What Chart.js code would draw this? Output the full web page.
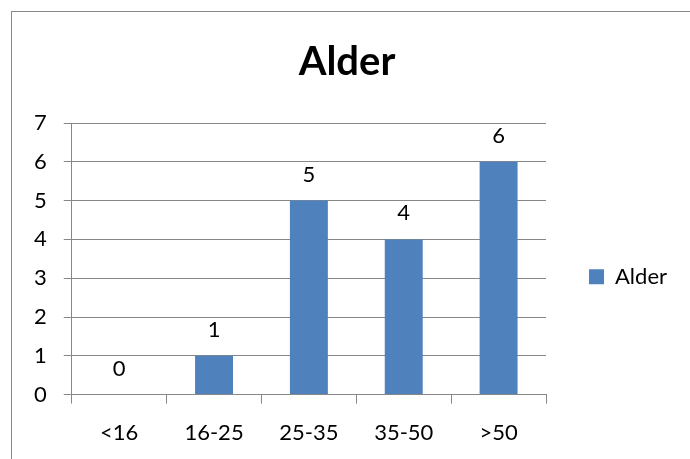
<!DOCTYPE html>
<html lang="no">
<head>
  <meta charset="UTF-8">
  <title>Alder</title>
  <script src="https://cdn.jsdelivr.net/npm/chart.js@4.4.0/dist/chart.umd.min.js"></script>
  <style>
    html, body { margin: 0; padding: 0; background: #fff; overflow: hidden; }
    #frame { position: absolute; left: 11px; top: 11px; width: 900px; height: 700px; border: 1px solid #8a8a8a; }
    #chart { position: absolute; left: 0; top: 0; }
  </style>
</head>
<body>
  <div id="frame"></div>
  <canvas id="chart" width="690" height="459"></canvas>

  <script>
    const categories = ["<16", "16-25", "25-35", "35-50", ">50"];
    const alderValues = [0, 1, 5, 4, 6];
    const yTicks = [0, 1, 2, 3, 4, 5, 6, 7];

    const gridGray = '#878787';
    const barBlue = '#4f81bd';

    // verdier over søylene
    const valueLabels = {
      id: 'valueLabels',
      afterDatasetsDraw(chart) {
        const ctx = chart.ctx;
        const meta = chart.getDatasetMeta(0);
        ctx.save();
        ctx.font = '22px Lato';
        ctx.fillStyle = '#000';
        ctx.textAlign = 'center';
        ctx.textBaseline = 'middle';
        meta.data.forEach((bar, i) => {
          ctx.fillText(String(alderValues[i]), bar.x, bar.y - 26);
        });
        ctx.restore();
      }
    };

    new Chart(document.getElementById('chart'), {
      type: 'bar',
      data: {
        labels: categories,
        datasets: [{
          label: 'Alder',
          data: alderValues,
          backgroundColor: barBlue,
          borderWidth: 0,
          barPercentage: 0.4,
          categoryPercentage: 1
        }]
      },
      options: {
        responsive: false,
        animation: false,
        devicePixelRatio: 1,
        layout: { padding: { left: 17, right: 13, top: 0, bottom: -3 } },
        plugins: {
          title: {
            display: true,
            text: 'Alder',
            color: '#000',
            font: { family: 'Lato', size: 40, weight: 'bold' },
            padding: { top: 38, bottom: 37 }
          },
          legend: {
            position: 'right',
            fullSize: false,
            // tom tittel skyver oppføringen litt ned
            title: { display: true, text: ' ', font: { family: 'Lato', size: 20 }, padding: { top: 12, bottom: 0 } },
            labels: {
              color: '#000',
              font: { family: 'Lato', size: 22 },
              boxWidth: 15,
              boxHeight: 15,
              padding: 43
            }
          },
          tooltip: { enabled: false }
        },
        scales: {
          x: {
            grid: { drawOnChartArea: false, drawTicks: true, tickLength: 9, color: gridGray },
            border: { color: gridGray },
            ticks: { color: '#000', font: { family: 'Lato', size: 22 }, padding: 16 }
          },
          y: {
            min: 0,
            max: 7,
            afterBuildTicks(axis) { axis.ticks = yTicks.map(v => ({ value: v })); },
            grid: { color: gridGray, tickLength: 8 },
            border: { color: gridGray },
            ticks: { color: '#000', font: { family: 'Lato', size: 22 }, padding: 17 }
          }
        }
      },
      plugins: [valueLabels]
    });
  </script>
</body>
</html>
